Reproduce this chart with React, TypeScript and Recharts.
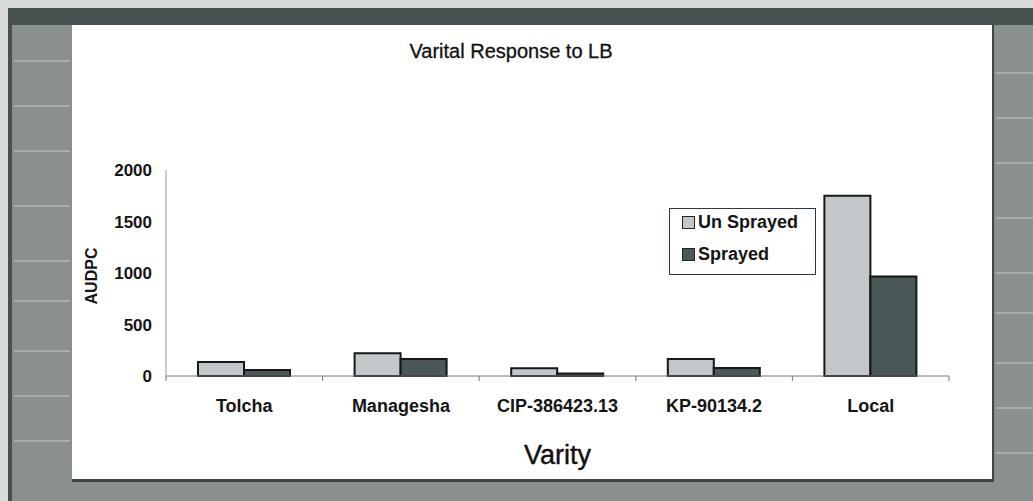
import React from 'react';
import { BarChart, Bar, XAxis, YAxis, Legend, Label } from 'recharts';

const categories = ['Tolcha', 'Managesha', 'CIP-386423.13', 'KP-90134.2', 'Local'];
const unSprayed = [135, 222, 75, 164, 1750];
const sprayed = [58, 164, 25, 77, 966];
const yTicks = [0, 500, 1000, 1500, 2000];
const seriesNames = ['Un Sprayed', 'Sprayed'];
const seriesColors = ['#c3c7c9', '#4a5858'];

const data = categories.map((c, i) => ({ name: c, unSprayed: unSprayed[i], sprayed: sprayed[i] }));

const FONT = '"Liberation Sans", Arial, sans-serif';
const TICK_SIZE = 6;
const TICK_MARGIN = 17;

const XTick = (props: any) => {
  const { x, y, payload, index } = props;
  const half = payload && payload.offset ? payload.offset : 0;
  const axisY = y - TICK_SIZE - TICK_MARGIN;
  return (
    <g>
      {half > 0 && <line x1={x - half} x2={x - half} y1={axisY} y2={axisY + 5} stroke="#777" />}
      {half > 0 && index === categories.length - 1 && (
        <line x1={x + half} x2={x + half} y1={axisY} y2={axisY + 5} stroke="#777" />
      )}
      <text x={x} y={y} dy="0.71em" textAnchor="middle" fontFamily={FONT} fontWeight="bold" fontSize={18} fill="#151515">
        {payload.value}
      </text>
    </g>
  );
};

const LegendBox = () => (
  <div
    style={{
      position: 'relative',
      width: 145,
      height: 65,
      background: '#fff',
      border: '1px solid #2c3650',
      fontFamily: FONT,
      fontWeight: 'bold',
      fontSize: 18,
      color: '#151515',
    }}
  >
    <div style={{ position: 'absolute', top: -3, left: 12 }}>
      {seriesNames.map((n, i) => (
        <div key={n} style={{ height: 32, lineHeight: '32px', whiteSpace: 'nowrap' }}>
          <span
            style={{
              display: 'inline-block',
              width: 11,
              height: 11,
              background: seriesColors[i],
              border: '1px solid #222',
              marginRight: 3,
              verticalAlign: '-1px',
            }}
          />
          {n}
        </div>
      ))}
    </div>
  </div>
);

const stripes = [60, 105, 150, 205, 260, 300, 350, 395, 440];

export default function App() {
  return (
    <div style={{ position: 'absolute', left: 0, top: 0, width: 1033, height: 501, background: '#8a9090', overflow: 'hidden' }}>
      <div style={{ position: 'absolute', left: 0, top: 0, width: 1033, height: 8, background: '#d9dcdc' }} />
      <div style={{ position: 'absolute', left: 0, top: 0, width: 8, height: 501, background: '#d9dcdc' }} />
      <div style={{ position: 'absolute', left: 8, top: 8, width: 1025, height: 17, background: '#465252' }} />
      <div style={{ position: 'absolute', left: 8, top: 8, width: 4, height: 493, background: '#465252' }} />
      {stripes.map((s) => (
        <React.Fragment key={s}>
          <div style={{ position: 'absolute', left: 14, top: s, width: 56, height: 2, background: '#a6acac' }} />
          <div style={{ position: 'absolute', left: 996, top: s + 12, width: 37, height: 2, background: '#a6acac' }} />
        </React.Fragment>
      ))}
      <div style={{ position: 'absolute', left: 72, top: 25, width: 920, height: 454, background: '#ffffff' }} />
      <div style={{ position: 'absolute', left: 72, top: 479, width: 922, height: 3, background: '#3c4747' }} />
      <div style={{ position: 'absolute', left: 992, top: 25, width: 2, height: 457, background: '#3c4747' }} />
      <div
        style={{
          position: 'absolute',
          left: 0,
          top: 41,
          width: 1022,
          textAlign: 'center',
          fontFamily: FONT,
          fontSize: 20,
          lineHeight: '20px',
          color: '#111',
          WebkitTextStroke: '0.3px #111',
        }}
      >
        Varital Response to LB
      </div>
      <div style={{ position: 'absolute', left: 0, top: 0 }}>
        <BarChart
          width={1033}
          height={501}
          data={data}
          margin={{ top: 170, right: 84, bottom: 85, left: 106 }}
          barSize={46}
          barGap={0}
        >
          <XAxis
            dataKey="name"
            height={40}
            interval={0}
            tickLine={false}
            tickSize={TICK_SIZE}
            tickMargin={TICK_MARGIN}
            axisLine={{ stroke: '#777' }}
            tick={<XTick />}
          >
            <Label
              value="Varity"
              position="bottom"
              offset={29}
              style={{ fontFamily: FONT, fontSize: 27, fill: '#111', stroke: '#111', strokeWidth: 0.4 }}
            />
          </XAxis>
          <YAxis
            domain={[0, 2000]}
            ticks={yTicks}
            interval={0}
            width={60}
            tickLine={false}
            tickMargin={8}
            axisLine={{ stroke: '#999' }}
            tick={{ fontFamily: FONT, fontWeight: 'bold', fontSize: 17, fill: '#151515' }}
          >
            <Label
              content={(p: any) => {
                const vb = p.viewBox || { x: 106, y: 170, width: 60, height: 206 };
                const cx = vb.x - 9;
                const cy = vb.y + vb.height / 2 + 3;
                return (
                  <text
                    x={cx}
                    y={cy}
                    transform={`rotate(-90, ${cx}, ${cy})`}
                    textAnchor="middle"
                    fontFamily={FONT}
                    fontWeight="bold"
                    fontSize={16}
                    fill="#151515"
                  >
                    AUDPC
                  </text>
                );
              }}
            />
          </YAxis>
          <Legend
            layout="vertical"
            align="center"
            verticalAlign="middle"
            content={<LegendBox />}
            wrapperStyle={{ left: 669, top: 208, width: 147, height: 67 }}
          />
          <Bar dataKey="unSprayed" name={seriesNames[0]} fill={seriesColors[0]} stroke="#141818" strokeWidth={2} isAnimationActive={false} />
          <Bar dataKey="sprayed" name={seriesNames[1]} fill={seriesColors[1]} stroke="#141818" strokeWidth={2} isAnimationActive={false} />
        </BarChart>
      </div>
    </div>
  );
}
